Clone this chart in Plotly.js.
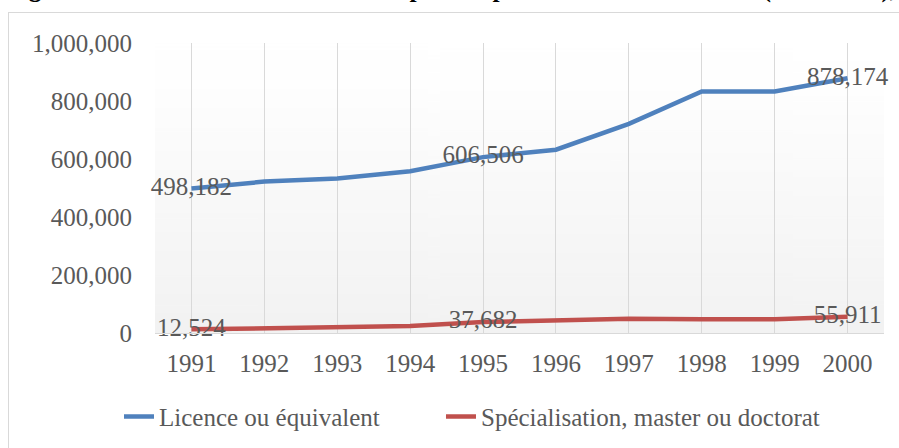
<!DOCTYPE html>
<html>
<head>
<meta charset="utf-8">
<script src="https://cdn.plot.ly/plotly-3.0.1.min.js"></script>
<style>
  html, body { margin: 0; padding: 0; background: #ffffff; overflow: hidden; }
  #title { position: absolute; left: 6px; top: -26px; white-space: nowrap; line-height: 30px;
           font-family: "Liberation Serif", serif; font-weight: bold; font-size: 25.5px; color: #000; }
  #frame { position: absolute; left: 8px; top: 12px; width: 1000px; height: 1000px;
           border-left: 1px solid #d9d9d9; border-top: 1px solid #d9d9d9; }
  #chart { position: absolute; left: 0; top: 0; width: 899px; height: 448px; }
</style>
</head>
<body>
<div id="title">Figure 4 : Évolution du nombre de diplômés par niveau de formation (1991-2000),</div>
<div id="frame"></div>
<div id="chart"></div>
<script>
const years = [1991, 1992, 1993, 1994, 1995, 1996, 1997, 1998, 1999, 2000];
const licence = [498182, 522000, 533000, 558000, 606506, 632000, 721000, 833000, 833000, 878174];
const specialisation = [12524, 16000, 17000, 24000, 37682, 45000, 49000, 47000, 47000, 55911];
const licenceLabels = ["498,182", "", "", "", "606,506", "", "", "", "", "878,174"];
const specLabels = ["12,524", "", "", "", "37,682", "", "", "", "", "55,911"];
const seriesNames = ["Licence ou équivalent", "Spécialisation, master ou doctorat"];
const yTicks = [0, 200000, 400000, 600000, 800000, 1000000];

// gradient for plot area background
const cv = document.createElement('canvas');
cv.width = 4; cv.height = 300;
const ctx = cv.getContext('2d');
const g = ctx.createLinearGradient(0, 0, 0, 300);
g.addColorStop(0, '#ffffff');
g.addColorStop(0.15, '#fefefe');
g.addColorStop(1, '#f2f2f2');
ctx.fillStyle = g;
ctx.fillRect(0, 0, 4, 300);
const gradURL = cv.toDataURL();

const FONT = "Liberation Serif, serif";
const TXT = "#595959";
const FS = 25;
const PAD = "\u00a0".repeat(9);

const traces = [
  {
    x: years, y: licence, name: seriesNames[0] + PAD, type: 'scatter', mode: 'lines+text',
    line: { color: '#4f81bd', width: 4.5 },
    text: licenceLabels, textposition: 'middle center',
    textfont: { family: FONT, size: FS, color: TXT },
    hoverinfo: 'x+y', cliponaxis: false
  },
  {
    x: years, y: specialisation, name: seriesNames[1], type: 'scatter', mode: 'lines+text',
    line: { color: '#c0504d', width: 4.5 },
    text: specLabels, textposition: 'middle center',
    textfont: { family: FONT, size: FS, color: TXT },
    hoverinfo: 'x+y', cliponaxis: false
  }
];

const layout = {
  width: 899, height: 448,
  margin: { l: 155, r: 15, t: 43, b: 115 },
  paper_bgcolor: 'rgba(0,0,0,0)',
  plot_bgcolor: 'rgba(0,0,0,0)',
  font: { family: FONT, size: FS, color: TXT },
  showlegend: true,
  legend: {
    orientation: 'h', x: 119 / 899, xanchor: 'left', xref: 'container',
    y: 0.07, yanchor: 'middle', yref: 'container',
    font: { family: FONT, size: FS, color: TXT },
    bgcolor: 'rgba(0,0,0,0)'
  },
  xaxis: {
    range: [1990.5, 2000.5], tickmode: 'array', tickvals: years,
    ticktext: years.map(String),
    showgrid: true, gridcolor: '#d9d9d9', gridwidth: 1,
    showline: true, linecolor: '#d9d9d9', linewidth: 1,
    zeroline: false, ticks: '', ticklabelstandoff: 8,
    tickfont: { family: FONT, size: FS, color: TXT }, fixedrange: true
  },
  yaxis: {
    range: [0, 1000000], tickmode: 'array', tickvals: yTicks,
    tickformat: ',', showgrid: false, zeroline: false, showline: false,
    ticks: '', ticklabelstandoff: 22,
    tickfont: { family: FONT, size: FS, color: TXT }, fixedrange: true
  },
  images: [{
    source: gradURL, xref: 'paper', yref: 'paper', x: 0, y: 1,
    sizex: 1, sizey: 1, sizing: 'stretch', layer: 'below',
    xanchor: 'left', yanchor: 'top'
  }]
};

Plotly.newPlot('chart', traces, layout, { displayModeBar: false, staticPlot: true });
</script>
</body>
</html>
